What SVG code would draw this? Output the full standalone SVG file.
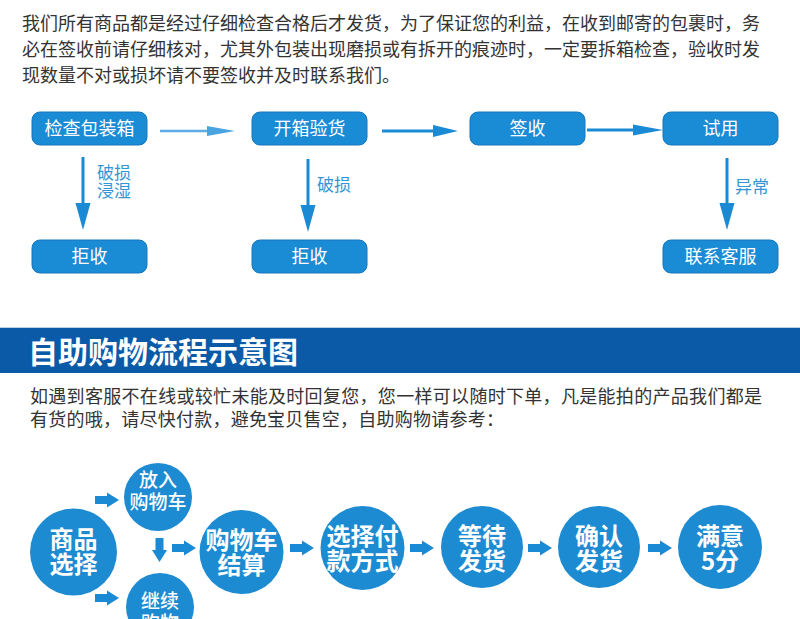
<svg xmlns="http://www.w3.org/2000/svg" xmlns:xlink="http://www.w3.org/1999/xlink" width="800" height="619" viewBox="0 0 800 619">
<style>
  .para { font-family: "Noto Sans CJK SC", "Noto Sans", sans-serif; font-size: 18px; fill: #333333; }
  .box { fill: #1a8bd5; stroke: #1676bb; stroke-width: 1; }
  .boxtxt { font-family: "Noto Sans CJK SC", "Noto Sans", sans-serif; font-size: 18px; fill: #ffffff; text-anchor: middle; }
  .lbl { font-family: "Noto Sans CJK SC", "Noto Sans", sans-serif; font-size: 17px; fill: #3596d6; }
  .line { stroke: #1a8ad4; stroke-width: 3; fill: none; }
  .head { fill: #1a8ad4; }
  .circ { fill: #1d8bd2; }
  .ctxt { font-family: "Noto Sans CJK SC", "Noto Sans", sans-serif; font-size: 24px; font-weight: 700; fill: #ffffff; text-anchor: middle; }
  .stxt { font-family: "Noto Sans CJK SC", "Noto Sans", sans-serif; font-size: 19px; font-weight: 500; fill: #ffffff; text-anchor: middle; }
  .barrow { fill: #1a8ad4; }
  .title { font-family: "Noto Sans CJK SC", "Noto Sans", sans-serif; font-size: 30px; font-weight: 700; fill: #ffffff; }
</style>
<defs>
  <path id="ba" d="M0,-4 H12 V-7.5 L24,0 L12,7.5 V4 H0 Z"/>
</defs>
<rect x="0" y="0" width="800" height="619" fill="#ffffff"/>

<g id="intro1">
  <text class="para" x="22" y="30">我们所有商品都是经过仔细检查合格后才发货，为了保证您的利益，在收到邮寄的包裹时，务</text>
  <text class="para" x="22" y="56">必在签收前请仔细核对，尤其外包装出现磨损或有拆开的痕迹时，一定要拆箱检查，验收时发</text>
  <text class="para" x="22" y="82">现数量不对或损坏请不要签收并及时联系我们。</text>
</g>

<g id="n-check">
  <rect class="box" x="32" y="112" width="115" height="33" rx="8"/>
  <text class="boxtxt" x="89.5" y="135">检查包装箱</text>
</g>
<g id="n-open">
  <rect class="box" x="252" y="112" width="115" height="33" rx="8"/>
  <text class="boxtxt" x="309.5" y="135">开箱验货</text>
</g>
<g id="n-sign">
  <rect class="box" x="470" y="112" width="115" height="33" rx="8"/>
  <text class="boxtxt" x="527.5" y="135">签收</text>
</g>
<g id="n-try">
  <rect class="box" x="663" y="112" width="115" height="33" rx="8"/>
  <text class="boxtxt" x="720.5" y="135">试用</text>
</g>
<g id="n-reject1">
  <rect class="box" x="32" y="240" width="115" height="33" rx="8"/>
  <text class="boxtxt" x="89.5" y="263">拒收</text>
</g>
<g id="n-reject2">
  <rect class="box" x="252" y="240" width="115" height="33" rx="8"/>
  <text class="boxtxt" x="309.5" y="263">拒收</text>
</g>
<g id="n-contact">
  <rect class="box" x="663" y="240" width="115" height="33" rx="8"/>
  <text class="boxtxt" x="720.5" y="263">联系客服</text>
</g>

<g id="connectors-top">
  <line x1="160" y1="131" x2="210" y2="131" stroke="#5aace2" stroke-width="2.5"/>
  <polygon points="207,126 235,131 207,136" fill="#4aa4e0"/>
  <line class="line" x1="382" y1="131" x2="436" y2="131"/>
  <polygon class="head" points="433,125 458,131 433,137"/>
  <line class="line" x1="587" y1="130" x2="636" y2="130"/>
  <polygon class="head" points="633,124.5 663,130 633,135.5"/>
  <line class="line" x1="83" y1="157" x2="83" y2="206"/>
  <polygon class="head" points="75.5,203 90.5,203 83,230"/>
  <line class="line" x1="308" y1="159" x2="308" y2="208"/>
  <polygon class="head" points="300.5,205 315.5,205 308,232"/>
  <line class="line" x1="727" y1="158" x2="727" y2="206"/>
  <polygon class="head" points="719.5,203 734.5,203 727,230"/>
  <text class="lbl" x="97" y="179">破损<tspan x="97" dy="18">浸湿</tspan></text>
  <text class="lbl" x="317" y="191">破损</text>
  <text class="lbl" x="735" y="193">异常</text>
</g>

<g id="banner">
  <rect x="0" y="327" width="800" height="1" fill="#b9d1ea"/>
  <rect x="0" y="328" width="800" height="45" fill="#0b5aa8"/>
  <text class="title" x="28" y="363">自助购物流程示意图</text>
</g>

<g id="intro2">
  <text class="para" x="30" y="403" textLength="732" lengthAdjust="spacing">如遇到客服不在线或较忙未能及时回复您，您一样可以随时下单，凡是能拍的产品我们都是</text>
  <text class="para" x="30" y="426" textLength="474" lengthAdjust="spacing">有货的哦，请尽快付款，避免宝贝售空，自助购物请参考：</text>
</g>

<g id="s-select">
  <circle class="circ" cx="73.5" cy="552" r="43.5"/>
  <text class="ctxt" x="73.5" y="548">商品<tspan x="73.5" dy="25">选择</tspan></text>
</g>
<g id="s-cart">
  <circle class="circ" cx="158" cy="497" r="34"/>
  <text class="stxt" x="158" y="487">放入<tspan x="158" dy="22">购物车</tspan></text>
</g>
<g id="s-continue">
  <circle class="circ" cx="160" cy="607" r="34"/>
  <text class="stxt" x="160" y="608">继续<tspan x="160" dy="22">购物</tspan></text>
</g>
<g id="s-checkout">
  <circle class="circ" cx="241.5" cy="552" r="42"/>
  <text class="ctxt" x="241.5" y="549">购物车<tspan x="241.5" dy="25">结算</tspan></text>
</g>
<g id="s-pay">
  <circle class="circ" cx="362.5" cy="548" r="42"/>
  <text class="ctxt" x="362.5" y="545">选择付<tspan x="362.5" dy="25">款方式</tspan></text>
</g>
<g id="s-wait">
  <circle class="circ" cx="482" cy="547" r="41"/>
  <text class="ctxt" x="482" y="545">等待<tspan x="482" dy="25">发货</tspan></text>
</g>
<g id="s-confirm">
  <circle class="circ" cx="599" cy="547" r="41"/>
  <text class="ctxt" x="599" y="545">确认<tspan x="599" dy="25">发货</tspan></text>
</g>
<g id="s-rate">
  <circle class="circ" cx="720" cy="547" r="42"/>
  <text class="ctxt" x="720" y="545">满意<tspan x="720" dy="25">5分</tspan></text>
</g>

<g id="connectors-bottom" class="barrow">
  <use xlink:href="#ba" href="#ba" transform="translate(95,500)"/>
  <use xlink:href="#ba" href="#ba" transform="translate(95,598)"/>
  <use xlink:href="#ba" href="#ba" transform="translate(159.5,538) rotate(90)"/>
  <use xlink:href="#ba" href="#ba" transform="translate(172,548)"/>
  <use xlink:href="#ba" href="#ba" transform="translate(290,548)"/>
  <use xlink:href="#ba" href="#ba" transform="translate(410,548)"/>
  <use xlink:href="#ba" href="#ba" transform="translate(528,548)"/>
  <use xlink:href="#ba" href="#ba" transform="translate(648,548)"/>
</g>
</svg>
